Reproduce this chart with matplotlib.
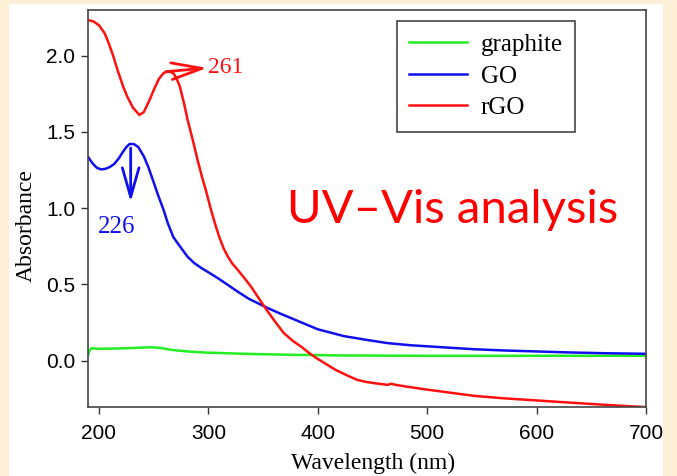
import numpy as np
import matplotlib
matplotlib.use('Agg')
import matplotlib.pyplot as plt
from matplotlib.patches import Rectangle

# wavelength (nm) / absorbance
rgo_wl = [190, 195, 200, 205, 208, 213, 217, 222, 226, 231, 237, 241, 246, 251, 255, 259, 262, 265,
          268, 271, 274, 278, 281, 286, 290, 294, 298, 302, 306, 310, 314, 318, 322, 327, 333,
          339, 345, 353, 361, 369, 377, 385, 392, 399, 408, 416, 426, 436, 444, 452,
          460, 464, 467, 470, 480, 499, 520, 543, 570, 600, 630, 661, 680, 700]
rgo_ab = [2.234, 2.225, 2.20, 2.15, 2.10, 2.00, 1.906, 1.80, 1.73, 1.66, 1.611, 1.63, 1.705, 1.79, 1.85, 1.885, 1.895, 1.895,
          1.885, 1.85, 1.797, 1.68, 1.58, 1.44, 1.32, 1.21, 1.11, 1.00, 0.90, 0.81, 0.735, 0.68, 0.635, 0.594, 0.54,
          0.485, 0.42, 0.335, 0.255, 0.18, 0.13, 0.09, 0.05, 0.015, -0.025, -0.06, -0.095, -0.127, -0.140, -0.149,
          -0.156, -0.160, -0.152, -0.158, -0.170, -0.19, -0.210, -0.232, -0.248, -0.262, -0.276, -0.29, -0.298, -0.306]

go_wl = [190, 194, 198, 202, 206, 210, 214, 218, 222, 225, 228, 232, 236, 241, 245, 250, 254, 259, 263,
         268, 272, 277, 281, 287, 294, 301, 309, 318, 327, 337, 347, 355, 365, 375, 385, 400, 424,
         445, 464, 485, 503, 525, 543, 570, 602, 630, 661, 700]
go_ab = [1.337, 1.295, 1.265, 1.254, 1.258, 1.27, 1.29, 1.325, 1.37, 1.40, 1.421, 1.42, 1.40, 1.34, 1.272, 1.17, 1.086, 0.99, 0.90,
         0.81, 0.769, 0.72, 0.681, 0.64, 0.605, 0.575, 0.539, 0.495, 0.451, 0.405, 0.37, 0.342, 0.31, 0.28, 0.25, 0.205, 0.16,
         0.135, 0.114, 0.10, 0.092, 0.082, 0.074, 0.066, 0.059, 0.053, 0.048, 0.044]

gr_wl = [190, 191, 193, 200, 210, 227, 247, 256, 266, 280, 298, 320, 345, 380, 424,
         460, 503, 600, 700]
gr_ab = [0.035, 0.06, 0.08, 0.077, 0.078, 0.081, 0.087, 0.083, 0.070, 0.060, 0.052, 0.047, 0.042, 0.037, 0.033,
         0.032, 0.031, 0.031, 0.031]

xticks = [200, 300, 400, 500, 600, 700]
yticks = [0.0, 0.5, 1.0, 1.5, 2.0]

serif = 'Liberation Serif'
sans = 'Liberation Sans'
red = '#ff1010'
blue = '#1010ee'

fig = plt.figure(figsize=(6.77, 4.76), dpi=100)
fig.patch.set_facecolor('#fcefd6')
# white panel behind the plot
fig.patches.append(Rectangle((9 / 677, 0), (663 - 9) / 677, 1 - 4 / 476,
                             transform=fig.transFigure, facecolor='white',
                             edgecolor='none', zorder=0))

ax = fig.add_axes([88 / 677, 1 - 407 / 476, (646 - 88) / 677, (407 - 10) / 476])
ax.set_zorder(2)
ax.set_facecolor('white')

ax.plot(gr_wl, gr_ab, color='#22ee22', lw=1.8, label='graphite')
ax.plot(go_wl, go_ab, color=blue, lw=1.8, label='GO')
ax.plot(rgo_wl, rgo_ab, color=red, lw=1.8, label='rGO')

ax.set_xlim(190, 700)
ax.set_ylim(-0.305, 2.30)
ax.set_xticks(xticks)
ax.set_yticks(yticks)
ax.set_yticklabels(['%.1f' % v for v in yticks])
ax.tick_params(axis='both', direction='out', length=5, width=1, colors='#333333',
               labelcolor='black', labelsize=15)
ax.tick_params(axis='x', pad=7)
ax.tick_params(axis='y', pad=4)
for lab in ax.get_xticklabels() + ax.get_yticklabels():
    lab.set_family(sans)
for sp in ax.spines.values():
    sp.set_color('#444444')
    sp.set_linewidth(1.2)

ax.set_xlabel('Wavelength (nm)', family=serif, fontsize=17, labelpad=7)
ax.set_ylabel('Absorbance', family=serif, fontsize=17, labelpad=7)
ax.xaxis.label.set_x(0.511)
ax.yaxis.label.set_y(0.456)

leg = ax.legend(loc='upper right', bbox_to_anchor=(0.873, 0.972), borderaxespad=0,
                prop={'family': serif, 'size': 18},
                fancybox=False, framealpha=1, edgecolor='#444444', handlelength=2.3,
                borderpad=0.5, labelspacing=0.36, handletextpad=0.56)
leg.get_frame().set_linewidth(1.2)

# peak markers
ax.annotate('', xy=(299, 1.92), xytext=(261, 1.895),
            arrowprops=dict(arrowstyle='->, head_length=1.1, head_width=0.3', color=red,
                            lw=2, shrinkA=0, shrinkB=0, mutation_scale=20))
ax.text(300, 1.92, '261', color=red, family=serif, fontsize=17, va='center', ha='left')
ax.annotate('', xy=(229, 1.04), xytext=(229, 1.394),
            arrowprops=dict(arrowstyle='->, head_length=1.05, head_width=0.3', color=blue,
                            lw=2, shrinkA=0, shrinkB=0, mutation_scale=20))
ax.text(216, 0.876, '226', color=blue, family=serif, fontsize=18, ha='center', va='center')

ax.text(523, 0.90, 'UV\u2013Vis analysis', color='#ff0000', family='Lato', fontsize=34,
        ha='center', va='baseline')

fig.savefig('out.png', dpi=100, facecolor=fig.get_facecolor())
